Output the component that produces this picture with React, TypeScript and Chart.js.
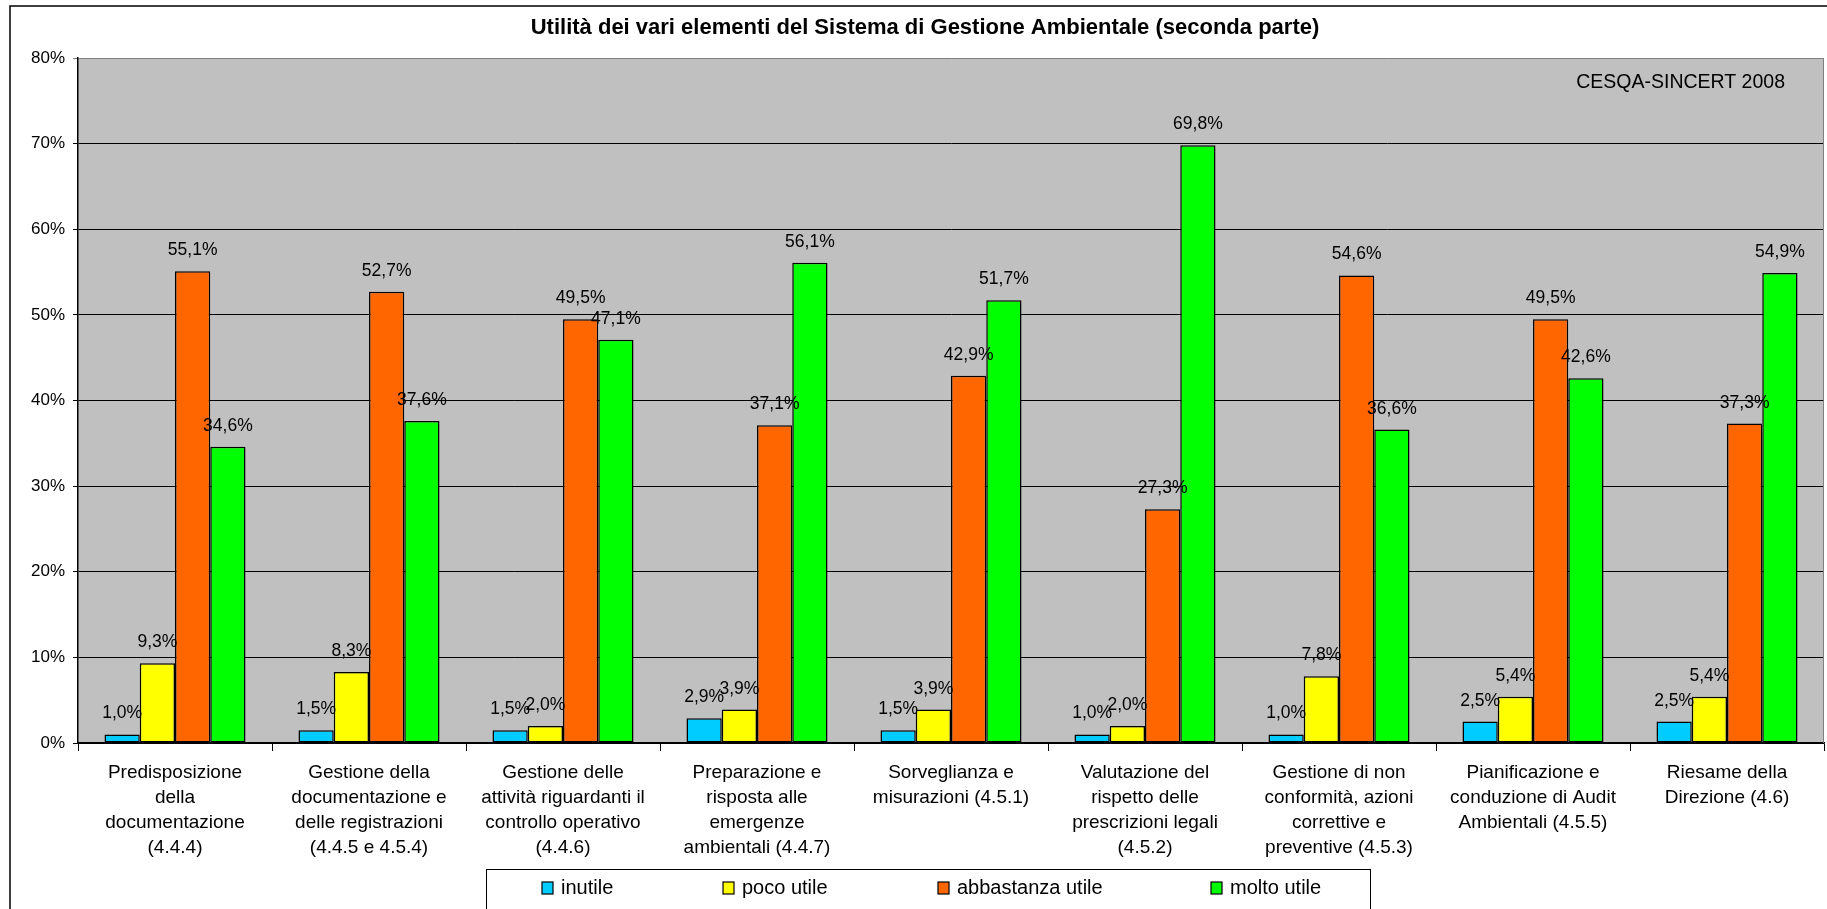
import React, { useEffect, useRef } from "react";
import { Chart, registerables } from "chart.js";

Chart.register(...registerables);

const titleText = "Utilità dei vari elementi del Sistema di Gestione Ambientale (seconda parte)";
const sourceNote = "CESQA-SINCERT 2008";

const categories: string[][] = [
  ["Predisposizione", "della", "documentazione", "(4.4.4)"],
  ["Gestione della", "documentazione e", "delle registrazioni", "(4.4.5 e 4.5.4)"],
  ["Gestione delle", "attività riguardanti il", "controllo operativo", "(4.4.6)"],
  ["Preparazione e", "risposta alle", "emergenze", "ambientali (4.4.7)"],
  ["Sorveglianza e", "misurazioni (4.5.1)"],
  ["Valutazione del", "rispetto delle", "prescrizioni legali", "(4.5.2)"],
  ["Gestione di non", "conformità, azioni", "correttive e", "preventive (4.5.3)"],
  ["Pianificazione e", "conduzione di Audit", "Ambientali (4.5.5)"],
  ["Riesame della", "Direzione (4.6)"],
];

const seriesNames = ["inutile", "poco utile", "abbastanza utile", "molto utile"];
const inutile = [1.0, 1.5, 1.5, 2.9, 1.5, 1.0, 1.0, 2.5, 2.5];
const pocoUtile = [9.3, 8.3, 2.0, 3.9, 3.9, 2.0, 7.8, 5.4, 5.4];
const abbastanzaUtile = [55.1, 52.7, 49.5, 37.1, 42.9, 27.3, 54.6, 49.5, 37.3];
const moltoUtile = [34.6, 37.6, 47.1, 56.1, 51.7, 69.8, 36.6, 42.6, 54.9];
const seriesColors = ["#00CCFF", "#FFFF00", "#FF6600", "#00FF00"];

const yMin = 0;
const yMax = 80;
const yStep = 10;

const FONT = "'Liberation Sans', Arial, sans-serif";

const fmt = (v: number) => v.toFixed(1).replace(".", ",") + "%";

const decorPlugin = {
  id: "decor",
  beforeDraw(chart: any) {
    const { ctx, chartArea } = chart;
    ctx.save();
    ctx.fillStyle = "#ffffff";
    ctx.fillRect(0, 0, chart.width, chart.height);
    // outer border
    ctx.strokeStyle = "#000000";
    ctx.lineWidth = 1.5;
    ctx.strokeRect(10, 6, chart.width + 10, chart.height + 10);
    // plot background
    ctx.fillStyle = "#C0C0C0";
    ctx.fillRect(chartArea.left, chartArea.top, chartArea.right - chartArea.left, chartArea.bottom - chartArea.top);
    // title
    ctx.fillStyle = "#000000";
    ctx.font = `bold 22px ${FONT}`;
    ctx.textAlign = "center";
    ctx.textBaseline = "middle";
    ctx.fillText(titleText, 925, 28);
    ctx.restore();
  },
  afterDraw(chart: any) {
    const { ctx, chartArea } = chart;
    ctx.save();
    // plot right border
    ctx.strokeStyle = "#808080";
    ctx.lineWidth = 1;
    ctx.beginPath();
    ctx.moveTo(chartArea.right - 0.5, chartArea.top);
    ctx.lineTo(chartArea.right - 0.5, chartArea.bottom);
    ctx.stroke();
    // source note
    ctx.fillStyle = "#000000";
    ctx.font = `19.5px ${FONT}`;
    ctx.textAlign = "right";
    ctx.textBaseline = "middle";
    ctx.fillText(sourceNote, 1785, 83);
    // data labels
    ctx.font = `17.5px ${FONT}`;
    ctx.textAlign = "center";
    ctx.textBaseline = "alphabetic";
    chart.data.datasets.forEach((ds: any, i: number) => {
      const meta = chart.getDatasetMeta(i);
      meta.data.forEach((bar: any, j: number) => {
        ctx.fillText(fmt(ds.data[j]), bar.x, bar.y - 16);
      });
    });
    // legend
    const lx = 486, ly = 869, lw = 884, lh = 70;
    ctx.strokeStyle = "#000000";
    ctx.lineWidth = 1;
    ctx.strokeRect(lx + 0.5, ly + 0.5, lw, lh);
    const itemX = [542, 723, 938, 1211];
    const cy = 888;
    ctx.font = `20px ${FONT}`;
    ctx.textAlign = "left";
    ctx.textBaseline = "middle";
    chart.data.datasets.forEach((ds: any, i: number) => {
      const x = itemX[i];
      ctx.fillStyle = ds.backgroundColor;
      ctx.fillRect(x, cy - 6, 11, 12);
      ctx.strokeStyle = "#000000";
      ctx.lineWidth = 1.2;
      ctx.strokeRect(x, cy - 6, 11, 12);
      ctx.fillStyle = "#000000";
      ctx.fillText(ds.label, x + 19, cy);
    });
    ctx.restore();
  },
};

export default function App() {
  const ref = useRef<HTMLCanvasElement | null>(null);
  useEffect(() => {
    if (!ref.current) return;
    const seriesData = [inutile, pocoUtile, abbastanzaUtile, moltoUtile];
    const chart = new Chart(ref.current, {
      type: "bar",
      data: {
        labels: categories as any,
        datasets: seriesNames.map((name, i) => ({
          label: name,
          data: seriesData[i],
          backgroundColor: seriesColors[i],
          borderColor: "#000000",
          borderWidth: 1.5,
          borderSkipped: false,
          categoryPercentage: 0.727,
          barPercentage: 1.0,
        })),
      },
      options: {
        animation: false,
        responsive: false,
        maintainAspectRatio: false,
        layout: { padding: { left: 0, top: 58, right: 3, bottom: 46 } },
        plugins: {
          legend: { display: false },
          title: { display: false },
          tooltip: { enabled: false },
        },
        scales: {
          x: {
            type: "category",
            offset: true,
            grid: {
              offset: true,
              drawOnChartArea: false,
              drawTicks: true,
              tickLength: 8,
              color: "#000000",
              lineWidth: 1,
            },
            border: { display: true, color: "#000000", width: 1.5 },
            ticks: {
              color: "#000000",
              font: { family: FONT, size: 19, lineHeight: 1.32 },
              maxRotation: 0,
              minRotation: 0,
              autoSkip: false,
              padding: 9,
            },
            afterFit: (scale: any) => {
              scale.height = 120;
            },
          },
          y: {
            min: yMin,
            max: yMax,
            ticks: {
              stepSize: yStep,
              color: "#000000",
              font: { family: FONT, size: 17 },
              padding: 8,
              callback: (v: any) => v + "%",
            },
            grid: {
              color: (c: any) => (c.tick && c.tick.value === yMax ? "#808080" : "#000000"),
              lineWidth: 1,
              tickLength: 5,
              drawTicks: true,
            },
            border: { display: true, color: "#000000", width: 1.5 },
            afterFit: (scale: any) => {
              scale.width = 78;
            },
          },
        },
      },
      plugins: [decorPlugin],
    });
    return () => chart.destroy();
  }, []);
  return (
    <div style={{ position: "fixed", left: 0, top: 0, width: 1827, height: 909 }}>
      <canvas ref={ref} width={1827} height={909} style={{ display: "block", width: 1827, height: 909 }} />
    </div>
  );
}
